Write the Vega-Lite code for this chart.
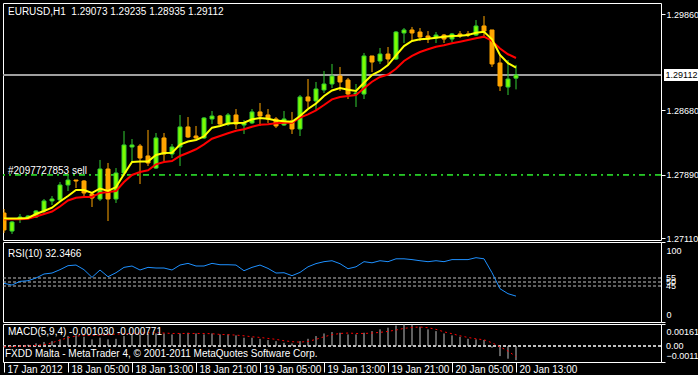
{
"$schema": "https://vega.github.io/schema/vega-lite/v6.json",
"background": "#000000",
"padding": {"left": 2, "top": 2, "right": 0, "bottom": 0},
"bounds": "flush",
"spacing": 2,
"config": {
  "view": {"stroke": "#ffffff", "strokeWidth": 1},
  "axis": {"labelColor": "#ffffff", "tickColor": "#ffffff", "domain": false, "grid": false, "labelFont": "Liberation Sans", "labelFontSize": 9, "labelOverlap": false},
  "text": {"font": "Liberation Sans", "fontSize": 10, "color": "#ffffff"}
},
"datasets": {"bars": [
{"t":"2012-01-17T21:00:00Z","o":1.27418,"h":1.27467,"l":1.27173,"c":1.27210,"f":1.27351,"s":1.27341,"rsi":48.3,"macd":-0.00010,"sig":-0.00005},
{"t":"2012-01-17T22:00:00Z","o":1.27197,"h":1.27320,"l":1.27161,"c":1.27308,"f":1.27351,"s":1.27341,"rsi":46.2,"macd":-0.00005,"sig":-0.00005},
{"t":"2012-01-17T23:00:00Z","o":1.27345,"h":1.27406,"l":1.27296,"c":1.27369,"f":1.27351,"s":1.27341,"rsi":50.8,"macd":0.00000,"sig":0.00000},
{"t":"2012-01-18T00:00:00Z","o":1.27357,"h":1.27394,"l":1.27345,"c":1.27381,"f":1.27357,"s":1.27348,"rsi":51.6,"macd":0.00010,"sig":0.00000},
{"t":"2012-01-18T01:00:00Z","o":1.27369,"h":1.27455,"l":1.27357,"c":1.27443,"f":1.27406,"s":1.27375,"rsi":55.0,"macd":0.00020,"sig":0.00005},
{"t":"2012-01-18T02:00:00Z","o":1.27443,"h":1.27590,"l":1.27406,"c":1.27566,"f":1.27443,"s":1.27406,"rsi":60.0,"macd":0.00030,"sig":0.00010},
{"t":"2012-01-18T03:00:00Z","o":1.27566,"h":1.27627,"l":1.27516,"c":1.27590,"f":1.27483,"s":1.27437,"rsi":61.2,"macd":0.00036,"sig":0.00024},
{"t":"2012-01-18T04:00:00Z","o":1.27578,"h":1.27799,"l":1.27553,"c":1.27762,"f":1.27559,"s":1.27498,"rsi":65.4,"macd":0.00049,"sig":0.00044},
{"t":"2012-01-18T05:00:00Z","o":1.27762,"h":1.27872,"l":1.27688,"c":1.27823,"f":1.27627,"s":1.27572,"rsi":70.4,"macd":0.00073,"sig":0.00061},
{"t":"2012-01-18T06:00:00Z","o":1.27823,"h":1.27823,"l":1.27725,"c":1.27811,"f":1.27700,"s":1.27606,"rsi":71.2,"macd":0.00078,"sig":0.00073},
{"t":"2012-01-18T07:00:00Z","o":1.27811,"h":1.27823,"l":1.27627,"c":1.27664,"f":1.27700,"s":1.27615,"rsi":65.4,"macd":0.00068,"sig":0.00078},
{"t":"2012-01-18T08:00:00Z","o":1.27651,"h":1.27664,"l":1.27492,"c":1.27602,"f":1.27664,"s":1.27615,"rsi":55.8,"macd":0.00049,"sig":0.00078},
{"t":"2012-01-18T09:00:00Z","o":1.27590,"h":1.28069,"l":1.27566,"c":1.27958,"f":1.27719,"s":1.27664,"rsi":65.0,"macd":0.00061,"sig":0.00080},
{"t":"2012-01-18T10:00:00Z","o":1.27958,"h":1.28032,"l":1.27320,"c":1.27590,"f":1.27688,"s":1.27676,"rsi":56.6,"macd":0.00049,"sig":0.00083},
{"t":"2012-01-18T11:00:00Z","o":1.27590,"h":1.27970,"l":1.27541,"c":1.27909,"f":1.27737,"s":1.27688,"rsi":61.6,"macd":0.00053,"sig":0.00087},
{"t":"2012-01-18T12:00:00Z","o":1.27909,"h":1.28424,"l":1.27872,"c":1.28253,"f":1.27893,"s":1.27799,"rsi":68.3,"macd":0.00073,"sig":0.00090},
{"t":"2012-01-18T13:00:00Z","o":1.28228,"h":1.28326,"l":1.28056,"c":1.28253,"f":1.28044,"s":1.27885,"rsi":70.0,"macd":0.00085,"sig":0.00092},
{"t":"2012-01-18T14:00:00Z","o":1.28240,"h":1.28265,"l":1.27774,"c":1.28093,"f":1.28050,"s":1.27921,"rsi":65.0,"macd":0.00085,"sig":0.00095},
{"t":"2012-01-18T15:00:00Z","o":1.28118,"h":1.28437,"l":1.27995,"c":1.28032,"f":1.28050,"s":1.27942,"rsi":68.3,"macd":0.00087,"sig":0.00097},
{"t":"2012-01-18T16:00:00Z","o":1.27970,"h":1.28400,"l":1.27958,"c":1.28339,"f":1.28130,"s":1.28016,"rsi":67.5,"macd":0.00092,"sig":0.00097},
{"t":"2012-01-18T17:00:00Z","o":1.28339,"h":1.28400,"l":1.28056,"c":1.28142,"f":1.28154,"s":1.28044,"rsi":67.5,"macd":0.00092,"sig":0.00095},
{"t":"2012-01-18T18:00:00Z","o":1.28142,"h":1.28265,"l":1.28093,"c":1.28228,"f":1.28158,"s":1.28056,"rsi":65.0,"macd":0.00085,"sig":0.00092},
{"t":"2012-01-18T19:00:00Z","o":1.28228,"h":1.28621,"l":1.27995,"c":1.28474,"f":1.28259,"s":1.28118,"rsi":71.2,"macd":0.00092,"sig":0.00092},
{"t":"2012-01-18T20:00:00Z","o":1.28474,"h":1.28596,"l":1.28339,"c":1.28351,"f":1.28296,"s":1.28158,"rsi":73.3,"macd":0.00097,"sig":0.00092},
{"t":"2012-01-18T21:00:00Z","o":1.28363,"h":1.28486,"l":1.28326,"c":1.28339,"f":1.28314,"s":1.28200,"rsi":70.0,"macd":0.00092,"sig":0.00092},
{"t":"2012-01-18T22:00:00Z","o":1.28339,"h":1.28596,"l":1.28326,"c":1.28584,"f":1.28357,"s":1.28261,"rsi":70.0,"macd":0.00085,"sig":0.00092},
{"t":"2012-01-18T23:00:00Z","o":1.28572,"h":1.28670,"l":1.28510,"c":1.28608,"f":1.28465,"s":1.28330,"rsi":73.3,"macd":0.00092,"sig":0.00090},
{"t":"2012-01-19T00:00:00Z","o":1.28608,"h":1.28621,"l":1.28498,"c":1.28510,"f":1.28486,"s":1.28363,"rsi":71.6,"macd":0.00085,"sig":0.00085},
{"t":"2012-01-19T01:00:00Z","o":1.28510,"h":1.28645,"l":1.28486,"c":1.28621,"f":1.28516,"s":1.28396,"rsi":71.6,"macd":0.00085,"sig":0.00083},
{"t":"2012-01-19T02:00:00Z","o":1.28621,"h":1.28694,"l":1.28449,"c":1.28510,"f":1.28523,"s":1.28428,"rsi":71.2,"macd":0.00078,"sig":0.00080},
{"t":"2012-01-19T03:00:00Z","o":1.28498,"h":1.28559,"l":1.28388,"c":1.28523,"f":1.28526,"s":1.28445,"rsi":64.1,"macd":0.00061,"sig":0.00075},
{"t":"2012-01-19T04:00:00Z","o":1.28523,"h":1.28694,"l":1.28510,"c":1.28658,"f":1.28568,"s":1.28477,"rsi":68.3,"macd":0.00061,"sig":0.00068},
{"t":"2012-01-19T05:00:00Z","o":1.28658,"h":1.28768,"l":1.28486,"c":1.28608,"f":1.28584,"s":1.28502,"rsi":71.2,"macd":0.00053,"sig":0.00063},
{"t":"2012-01-19T06:00:00Z","o":1.28621,"h":1.28694,"l":1.28523,"c":1.28572,"f":1.28574,"s":1.28507,"rsi":67.0,"macd":0.00044,"sig":0.00056},
{"t":"2012-01-19T07:00:00Z","o":1.28572,"h":1.28596,"l":1.28461,"c":1.28486,"f":1.28553,"s":1.28519,"rsi":61.2,"macd":0.00036,"sig":0.00049},
{"t":"2012-01-19T08:00:00Z","o":1.28498,"h":1.28670,"l":1.28486,"c":1.28572,"f":1.28543,"s":1.28526,"rsi":61.6,"macd":0.00024,"sig":0.00039},
{"t":"2012-01-19T09:00:00Z","o":1.28547,"h":1.28658,"l":1.28388,"c":1.28449,"f":1.28537,"s":1.28526,"rsi":57.9,"macd":0.00019,"sig":0.00032},
{"t":"2012-01-19T10:00:00Z","o":1.28449,"h":1.28866,"l":1.28363,"c":1.28842,"f":1.28608,"s":1.28588,"rsi":62.0,"macd":0.00036,"sig":0.00029},
{"t":"2012-01-19T11:00:00Z","o":1.28842,"h":1.29062,"l":1.28707,"c":1.28793,"f":1.28694,"s":1.28629,"rsi":69.0,"macd":0.00053,"sig":0.00034},
{"t":"2012-01-19T12:00:00Z","o":1.28793,"h":1.29026,"l":1.28670,"c":1.28940,"f":1.28762,"s":1.28678,"rsi":73.0,"macd":0.00073,"sig":0.00049},
{"t":"2012-01-19T13:00:00Z","o":1.28928,"h":1.29161,"l":1.28891,"c":1.29001,"f":1.28854,"s":1.28743,"rsi":75.4,"macd":0.00092,"sig":0.00068},
{"t":"2012-01-19T14:00:00Z","o":1.29001,"h":1.29247,"l":1.28952,"c":1.29099,"f":1.28921,"s":1.28813,"rsi":76.6,"macd":0.00102,"sig":0.00083},
{"t":"2012-01-19T15:00:00Z","o":1.29099,"h":1.29210,"l":1.28915,"c":1.29026,"f":1.28952,"s":1.28842,"rsi":72.9,"macd":0.00097,"sig":0.00092},
{"t":"2012-01-19T16:00:00Z","o":1.29050,"h":1.29075,"l":1.28817,"c":1.28878,"f":1.28930,"s":1.28854,"rsi":66.6,"macd":0.00085,"sig":0.00095},
{"t":"2012-01-19T17:00:00Z","o":1.28878,"h":1.29001,"l":1.28719,"c":1.28891,"f":1.28915,"s":1.28866,"rsi":69.0,"macd":0.00085,"sig":0.00092},
{"t":"2012-01-19T18:00:00Z","o":1.28878,"h":1.29382,"l":1.28817,"c":1.29345,"f":1.29017,"s":1.28948,"rsi":75.4,"macd":0.00097,"sig":0.00092},
{"t":"2012-01-19T19:00:00Z","o":1.29345,"h":1.29345,"l":1.29148,"c":1.29271,"f":1.29112,"s":1.29029,"rsi":74.0,"macd":0.00109,"sig":0.00095},
{"t":"2012-01-19T20:00:00Z","o":1.29283,"h":1.29443,"l":1.29247,"c":1.29369,"f":1.29161,"s":1.29087,"rsi":76.6,"macd":0.00122,"sig":0.00100},
{"t":"2012-01-19T21:00:00Z","o":1.29369,"h":1.29455,"l":1.29247,"c":1.29308,"f":1.29234,"s":1.29118,"rsi":75.4,"macd":0.00134,"sig":0.00107},
{"t":"2012-01-19T22:00:00Z","o":1.29308,"h":1.29651,"l":1.29296,"c":1.29639,"f":1.29353,"s":1.29189,"rsi":79.0,"macd":0.00150,"sig":0.00117},
{"t":"2012-01-19T23:00:00Z","o":1.29627,"h":1.29688,"l":1.29504,"c":1.29664,"f":1.29467,"s":1.29283,"rsi":79.0,"macd":0.00161,"sig":0.00129},
{"t":"2012-01-20T00:00:00Z","o":1.29664,"h":1.29701,"l":1.29529,"c":1.29627,"f":1.29529,"s":1.29345,"rsi":78.0,"macd":0.00155,"sig":0.00136},
{"t":"2012-01-20T01:00:00Z","o":1.29639,"h":1.29688,"l":1.29529,"c":1.29578,"f":1.29550,"s":1.29394,"rsi":76.6,"macd":0.00141,"sig":0.00139},
{"t":"2012-01-20T02:00:00Z","o":1.29590,"h":1.29651,"l":1.29504,"c":1.29553,"f":1.29557,"s":1.29427,"rsi":75.4,"macd":0.00122,"sig":0.00134},
{"t":"2012-01-20T03:00:00Z","o":1.29566,"h":1.29639,"l":1.29504,"c":1.29602,"f":1.29569,"s":1.29459,"rsi":76.6,"macd":0.00109,"sig":0.00122},
{"t":"2012-01-20T04:00:00Z","o":1.29602,"h":1.29615,"l":1.29504,"c":1.29553,"f":1.29582,"s":1.29476,"rsi":75.4,"macd":0.00092,"sig":0.00104},
{"t":"2012-01-20T05:00:00Z","o":1.29553,"h":1.29627,"l":1.29516,"c":1.29615,"f":1.29590,"s":1.29501,"rsi":78.0,"macd":0.00078,"sig":0.00090},
{"t":"2012-01-20T06:00:00Z","o":1.29615,"h":1.29651,"l":1.29566,"c":1.29590,"f":1.29594,"s":1.29520,"rsi":78.0,"macd":0.00068,"sig":0.00075},
{"t":"2012-01-20T07:00:00Z","o":1.29615,"h":1.29651,"l":1.29578,"c":1.29602,"f":1.29602,"s":1.29541,"rsi":78.0,"macd":0.00053,"sig":0.00063},
{"t":"2012-01-20T08:00:00Z","o":1.29602,"h":1.29786,"l":1.29590,"c":1.29713,"f":1.29631,"s":1.29562,"rsi":80.4,"macd":0.00049,"sig":0.00053},
{"t":"2012-01-20T09:00:00Z","o":1.29713,"h":1.29835,"l":1.29566,"c":1.29651,"f":1.29643,"s":1.29582,"rsi":79.0,"macd":0.00044,"sig":0.00046},
{"t":"2012-01-20T10:00:00Z","o":1.29664,"h":1.29664,"l":1.29210,"c":1.29247,"f":1.29550,"s":1.29529,"rsi":61.6,"macd":-0.00012,"sig":0.00024},
{"t":"2012-01-20T11:00:00Z","o":1.29259,"h":1.29369,"l":1.28915,"c":1.28977,"f":1.29357,"s":1.29437,"rsi":41.6,"macd":-0.00073,"sig":-0.00005},
{"t":"2012-01-20T12:00:00Z","o":1.28964,"h":1.29296,"l":1.28866,"c":1.29062,"f":1.29256,"s":1.29366,"rsi":35.4,"macd":-0.00092,"sig":-0.00036},
{"t":"2012-01-20T13:00:00Z","o":1.29073,"h":1.29235,"l":1.28935,"c":1.29112,"f":1.29201,"s":1.29320,"rsi":32.35,"macd":-0.00103,"sig":-0.00077}
]},
"vconcat": [
{
  "width": 658, "height": 237,
  "data": {"name": "bars"},
  "layer": [
    {"mark": {"type": "rule", "color": "#a0a0a0", "strokeWidth": 1},
     "encoding": {
       "y": {"datum": 1.29112, "type": "quantitative",
             "scale": {"domain": [1.27087, 1.29995], "zero": false, "nice": false, "padding": 0},
             "axis": {"orient": "right", "title": null, "values": [1.2711, 1.275, 1.2789, 1.2829, 1.2868, 1.2947, 1.2986], "format": ".5f", "tickSize": 4, "labelPadding": 1, "labelOverlap": false}}}},
    {"mark": {"type": "rule", "color": "#2fbf2f", "strokeWidth": 1, "strokeDash": [6, 4, 2, 4]},
     "encoding": {"y": {"datum": 1.2789, "type": "quantitative"}}},
    {"mark": {"type": "rule", "clip": true, "strokeWidth": 1},
     "encoding": {
       "x": {"field": "t", "type": "temporal", "axis": null,
             "scale": {"type": "utc", "padding": 0, "domain": [{"year": 2012, "month": 1, "date": 17, "hours": 20, "minutes": 52, "seconds": 30, "utc": true}, {"year": 2012, "month": 1, "date": 21, "hours": 7, "minutes": 7, "seconds": 30, "utc": true}]}},
       "y": {"field": "l", "type": "quantitative"},
       "y2": {"field": "h"},
       "color": {"condition": {"test": "datum.c >= datum.o", "value": "#32cd32"}, "value": "#ffa500"}}},
    {"mark": {"type": "bar", "size": 4, "clip": true, "strokeWidth": 1},
     "encoding": {
       "x": {"field": "t", "type": "temporal"},
       "y": {"field": "o", "type": "quantitative"},
       "y2": {"field": "c"},
       "fill": {"condition": {"test": "datum.c >= datum.o", "value": "#7cfc00"}, "value": "#ffa500"},
       "stroke": {"condition": {"test": "datum.c >= datum.o", "value": "#32cd32"}, "value": "#ffa500"}}},
    {"mark": {"type": "line", "color": "#ff0000", "strokeWidth": 2, "clip": true},
     "encoding": {"x": {"field": "t", "type": "temporal"}, "y": {"field": "s", "type": "quantitative"}}},
    {"mark": {"type": "line", "color": "#ffff00", "strokeWidth": 2, "clip": true},
     "encoding": {"x": {"field": "t", "type": "temporal"}, "y": {"field": "f", "type": "quantitative"}}},
    {"data": {"values": [
       {"t": "2012-01-17T21:00:00Z", "v": 1.29885, "label": "EURUSD,H1\u00a0\u00a01.29073 1.29235 1.28935 1.29112"},
       {"t": "2012-01-17T21:00:00Z", "v": 1.27934, "label": "#2097727853 sell"}]},
     "mark": {"type": "text", "align": "left", "baseline": "middle", "dx": 4},
     "encoding": {"x": {"field": "t", "type": "temporal"}, "y": {"field": "v", "type": "quantitative"}, "text": {"field": "label"}}},
    {"data": {"values": [{"t": "2012-01-21T09:41:15Z", "v": 1.29112, "label": "1.29112"}]},
     "layer": [
       {"mark": {"type": "rect", "width": 35, "height": 12, "color": "#ffffff"},
        "encoding": {"x": {"field": "t", "type": "temporal"}, "y": {"field": "v", "type": "quantitative"}}},
       {"mark": {"type": "text", "align": "center", "baseline": "middle", "color": "#000000", "fontSize": 9},
        "encoding": {"x": {"field": "t", "type": "temporal"}, "y": {"field": "v", "type": "quantitative"}, "text": {"field": "label"}}}
     ]}
  ]
},
{
  "width": 658, "height": 80,
  "data": {"name": "bars"},
  "layer": [
    {"data": {"values": [{"lv": 45}, {"lv": 50}, {"lv": 55}]},
     "mark": {"type": "rule", "color": "#c0c0c0", "strokeWidth": 1, "strokeDash": [3, 2]},
     "encoding": {"y": {"field": "lv", "type": "quantitative",
        "scale": {"domain": [0, 100], "nice": false},
        "axis": {"orient": "right", "title": null, "values": [0, 45, 50, 55, 100], "tickSize": 4, "labelPadding": 1, "labelOverlap": false,
                 "labelExpr": "datum.value == 0 || datum.value == 100 ? datum.label : ''",
                 "labelOffset": {"condition": [{"test": "datum.value >= 100", "value": 8}, {"test": "datum.value <= 0", "value": -8}], "value": 0}}}}},
    {"mark": {"type": "line", "color": "#1e90ff", "strokeWidth": 1, "clip": true},
     "encoding": {
       "x": {"field": "t", "type": "temporal", "axis": null,
             "scale": {"type": "utc", "padding": 0, "domain": [{"year": 2012, "month": 1, "date": 17, "hours": 20, "minutes": 52, "seconds": 30, "utc": true}, {"year": 2012, "month": 1, "date": 21, "hours": 7, "minutes": 7, "seconds": 30, "utc": true}]}},
       "y": {"field": "rsi", "type": "quantitative"}}},
    {"data": {"values": [{"lv": 55, "label": "55"}, {"lv": 50, "label": "50"}, {"lv": 45, "label": "45"}]},
     "mark": {"type": "text", "align": "left", "baseline": "middle", "fontSize": 9},
     "encoding": {"x": {"datum": {"year": 2012, "month": 1, "date": 21, "hours": 7, "minutes": 45, "utc": true}, "type": "temporal"},
                  "y": {"field": "lv", "type": "quantitative"}, "text": {"field": "label"}}},
    {"data": {"values": [{"t": "2012-01-17T21:00:00Z", "v": 85, "label": "RSI(10) 32.3466"}]},
     "mark": {"type": "text", "align": "left", "baseline": "middle", "dx": 4},
     "encoding": {"x": {"field": "t", "type": "temporal"}, "y": {"field": "v", "type": "quantitative"}, "text": {"field": "label"}}}
  ]
},
{
  "width": 658, "height": 38,
  "data": {"name": "bars"},
  "layer": [
    {"mark": {"type": "rule", "color": "#c0c0c0", "strokeWidth": 1, "strokeDash": [3, 2]},
     "encoding": {"y": {"datum": 0, "type": "quantitative",
        "scale": {"domain": [-0.00116, 0.00161], "nice": false, "zero": false},
        "axis": {"orient": "right", "title": null, "values": [-0.00116, 0, 0.00161], "labelExpr": "datum.value == 0 ? '' : format(datum.value, '.5f')", "tickSize": 4, "labelPadding": 1, "labelOverlap": false,
                 "labelOffset": {"condition": [{"test": "datum.value > 0.001", "value": 7}, {"test": "datum.value < -0.001", "value": -7}], "value": 0}}}}},
    {"mark": {"type": "rule", "color": "#c0c0c0", "strokeWidth": 1, "clip": true},
     "encoding": {
       "x": {"field": "t", "type": "temporal",
             "scale": {"type": "utc", "padding": 0, "domain": [{"year": 2012, "month": 1, "date": 17, "hours": 20, "minutes": 52, "seconds": 30, "utc": true}, {"year": 2012, "month": 1, "date": 21, "hours": 7, "minutes": 7, "seconds": 30, "utc": true}]},
             "axis": {"orient": "bottom", "title": null,
                      "values": [
                        {"year": 2012, "month": 1, "date": 17, "hours": 21, "utc": true},
                        {"year": 2012, "month": 1, "date": 18, "hours": 5, "utc": true},
                        {"year": 2012, "month": 1, "date": 18, "hours": 13, "utc": true},
                        {"year": 2012, "month": 1, "date": 18, "hours": 21, "utc": true},
                        {"year": 2012, "month": 1, "date": 19, "hours": 5, "utc": true},
                        {"year": 2012, "month": 1, "date": 19, "hours": 13, "utc": true},
                        {"year": 2012, "month": 1, "date": 19, "hours": 21, "utc": true},
                        {"year": 2012, "month": 1, "date": 20, "hours": 5, "utc": true},
                        {"year": 2012, "month": 1, "date": 20, "hours": 13, "utc": true}],
                      "labelExpr": "utcFormat(datum.value, '%d %H') == '17 21' ? '17 Jan 2012' : utcFormat(datum.value, '%d %b %H:%M')",
                      "labelFontSize": 10, "tickSize": 10, "labelPadding": -8, "labelAlign": "left", "labelBaseline": "top", "labelOffset": 3, "labelBound": false, "labelFlush": false, "labelOverlap": false}},
       "y": {"field": "macd", "type": "quantitative"},
       "y2": {"datum": 0}}},
    {"mark": {"type": "line", "color": "#ff0000", "strokeWidth": 1, "strokeDash": [2, 3], "clip": true},
     "encoding": {"x": {"field": "t", "type": "temporal"}, "y": {"field": "sig", "type": "quantitative"}}},
    {"data": {"values": [{"lv": 0, "label": "0.00"}]},
     "mark": {"type": "text", "align": "left", "baseline": "middle", "fontSize": 9},
     "encoding": {"x": {"datum": {"year": 2012, "month": 1, "date": 21, "hours": 7, "minutes": 45, "utc": true}, "type": "temporal"},
                  "y": {"field": "lv", "type": "quantitative"}, "text": {"field": "label"}}},
    {"data": {"values": [{"t": "2012-01-17T21:00:00Z", "v": 0.00103, "label": "MACD(5,9,4) -0.001030 -0.000771"}]},
     "mark": {"type": "text", "align": "left", "baseline": "middle", "dx": 4},
     "encoding": {"x": {"field": "t", "type": "temporal"}, "y": {"field": "v", "type": "quantitative"}, "text": {"field": "label"}}},
    {"data": {"values": [{"t": "2012-01-17T21:00:00Z", "v": -0.00058, "label": "FXDD Malta - MetaTrader 4, © 2001-2011 MetaQuotes Software Corp."}]},
     "mark": {"type": "text", "align": "left", "baseline": "middle", "dx": 1},
     "encoding": {"x": {"field": "t", "type": "temporal"}, "y": {"field": "v", "type": "quantitative"}, "text": {"field": "label"}}}
  ]
}
]
}
